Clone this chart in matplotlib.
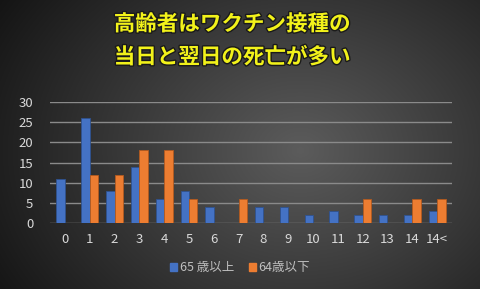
import numpy as np
import matplotlib
matplotlib.use("Agg")
import matplotlib.pyplot as plt
import matplotlib.patheffects as pe
from matplotlib.patches import Patch

plt.rcParams['font.family'] = ['Noto Sans CJK JP', 'DejaVu Sans']

categories = ["0", "1", "2", "3", "4", "5", "6", "7", "8", "9", "10", "11", "12", "13", "14", "14<"]
over65 = [11, 26, 8, 14, 6, 8, 4, 0, 4, 4, 2, 3, 2, 2, 2, 3]
under64 = [0, 12, 12, 18, 18, 6, 0, 6, 0, 0, 0, 0, 6, 0, 6, 6]
series_labels = ["65 歳以上", "64歳以下"]
title_lines = ["高齢者はワクチン接種の", "当日と翌日の死亡が多い"]
yticks = [0, 5, 10, 15, 20, 25, 30]

W, H = 480, 289
fig = plt.figure(figsize=(W / 100, H / 100), dpi=100)

# background gradient
bg = fig.add_axes([0, 0, 1, 1], zorder=-10)
yy, xx = np.mgrid[0:H, 0:W]
r = np.sqrt(((xx - 300) / 330.0) ** 2 + ((yy - 150) / 260.0) ** 2)
val = np.clip(0.36 - 0.26 * r, 0.08, 0.4)
img = np.dstack([val, val, val])
bg.imshow(img, aspect='auto', extent=[0, 1, 0, 1], origin='upper')
bg.axis('off')

ax = fig.add_axes([50 / W, 1 - 223 / H, 402 / W, 121 / H])
ax.set_facecolor('none')
x = np.arange(len(categories))
w = 0.34
blue = '#4472C4'
orange = '#ED7D31'
ax.bar(x - w / 2, over65, width=w, color=blue, edgecolor='#2F528F', linewidth=0.6, zorder=3)
ax.bar(x + w / 2, under64, width=w, color=orange, edgecolor='#B35A1F', linewidth=0.6, zorder=3)
ax.set_ylim(0, 30)
ax.set_xlim(-0.6, len(categories) - 0.4)
ax.set_yticks(yticks)
ax.yaxis.grid(True, color='#8a8a8a', linewidth=1.0, zorder=0)
ax.set_axisbelow(True)
for s in ax.spines.values():
    s.set_visible(False)
ax.set_xticks(x)
ax.set_xticklabels(categories)
ax.tick_params(axis='both', length=0, colors='#d9d9d9', labelsize=9.5)
ax.tick_params(axis='x', pad=7)
ax.tick_params(axis='y', pad=12)

for i, line in enumerate(title_lines):
    fig.text(232 / W, 1 - (24 + 33 * i) / H, line, ha='center', va='center',
             fontsize=15.5, fontweight='bold', color='#F2F21A',
             path_effects=[pe.withStroke(linewidth=2, foreground='#1a1a1a')])

handles = [Patch(color=blue), Patch(color=orange)]
leg = fig.legend(handles, series_labels, loc='center', bbox_to_anchor=(0.5, 1 - 268 / H),
                 ncol=2, frameon=False, fontsize=9, handlelength=0.55, handleheight=0.55,
                 handletextpad=0.2, columnspacing=1.2)
for t in leg.get_texts():
    t.set_color('#bfbfbf')

fig.savefig('out.png', dpi=100)
